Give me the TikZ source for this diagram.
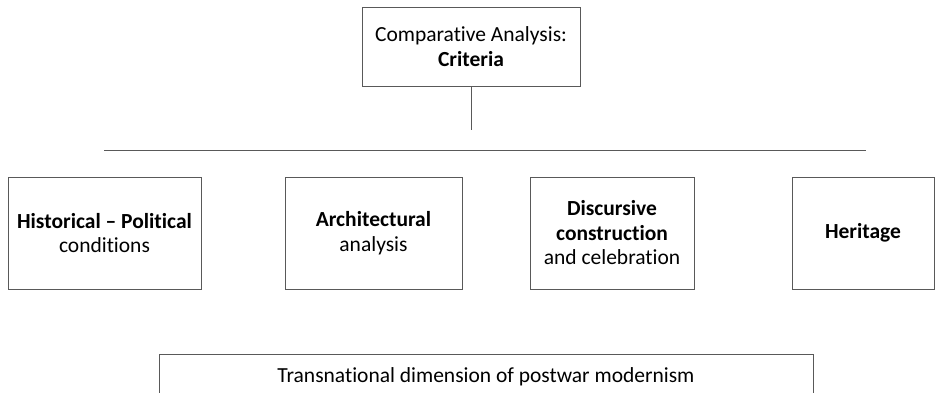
\documentclass[tikz,border=0pt]{standalone}
\usepackage{fontspec}
\setmainfont[Ligatures=CommonOff]{Carlito}
\begin{document}
\begin{tikzpicture}[x=1pt,y=-1pt,
  txt/.style={font=\fontsize{21.5}{24.5}\selectfont},
  box/.style={draw=black!65,line width=0.9pt,fill=white,align=center,
    inner sep=0pt,txt},
  rule/.style={draw=black!65,line width=0.9pt}]
\useasboundingbox (0,0) rectangle (937,393);
\clip (0,0) rectangle (937,393);
% heading box
\node[box,minimum width=218,minimum height=79] (crit) at (471,46.5)
  {Comparative Analysis:\\\textbf{Criteria}};
% bus line below the heading
\coordinate (busL) at (104,150);
\coordinate (busR) at (866,150);
\coordinate (stem) at (471,130);
\draw[rule] (crit.south) -- (stem);
\draw[rule] (busL) -- (busR);
% criteria boxes
\node[box,minimum width=193,minimum height=112] (hist) at (104.5,233)
  {\textbf{Historical – Political}\\conditions};
\node[box,minimum width=177,minimum height=112] (arch) at (373.5,233)
  {\textbf{Architectural}\\analysis};
\node[box,minimum width=164,minimum height=112] (disc) at (612,233)
  {\textbf{Discursive}\\\textbf{construction}\\and celebration};
\node[box,minimum width=142,minimum height=112] (herit) at (863,233)
  {\textbf{Heritage}};
% bottom box, running past the lower edge
\node[box,minimum width=654,minimum height=60,anchor=north] (trans) at (486,354) {};
\node[txt,anchor=base,inner sep=0pt] (transt) at (486,382)
  {Transnational dimension of postwar modernism};
\end{tikzpicture}
\end{document}
